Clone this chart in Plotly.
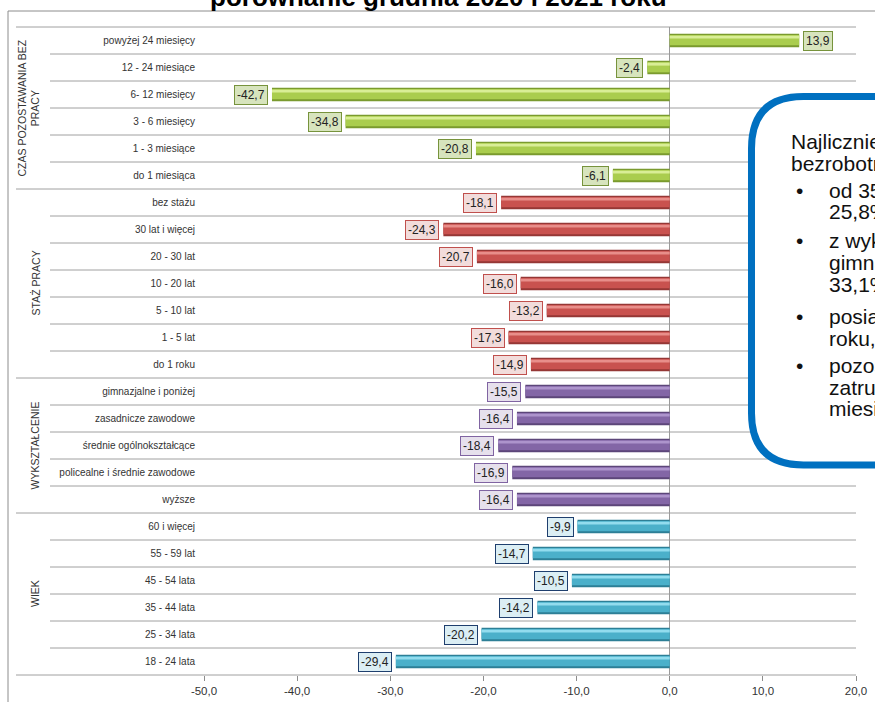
import plotly.graph_objects as go

# data (top to bottom as in the chart)
groups = ["CZAS POZOSTAWANIA BEZ<br>PRACY", "STAŻ PRACY", "WYKSZTAŁCENIE", "WIEK"]
group_sizes = [6, 7, 5, 6]
categories = [
    "powyżej 24 miesięcy", "12 - 24 miesiące", "6- 12 miesięcy", "3 - 6 miesięcy",
    "1 - 3 miesiące", "do 1 miesiąca",
    "bez stażu", "30 lat i więcej", "20 - 30 lat", "10 - 20 lat", "5 - 10 lat",
    "1 - 5 lat", "do 1 roku",
    "gimnazjalne i poniżej", "zasadnicze zawodowe", "średnie ogólnokształcące",
    "policealne i średnie zawodowe", "wyższe",
    "60 i więcej", "55 - 59 lat", "45 - 54 lata", "35 - 44 lata", "25 - 34 lata",
    "18 - 24 lata",
]
values = [
    13.9, -2.4, -42.7, -34.8, -20.8, -6.1,
    -18.1, -24.3, -20.7, -16.0, -13.2, -17.3, -14.9,
    -15.5, -16.4, -18.4, -16.9, -16.4,
    -9.9, -14.7, -10.5, -14.2, -20.2, -29.4,
]
x_ticks = [-50, -40, -30, -20, -10, 0, 10, 20]
x_tick_text = ["-50,0", "-40,0", "-30,0", "-20,0", "-10,0", "0,0", "10,0", "20,0"]

title = "porównanie grudnia 2020 i 2021 roku"
box_lines = [
    ("", "Najliczniejszą grupę wśród"),
    ("", "bezrobotnych stanowią osoby:"),
    ("•", "od 35 do 44 lat –"),
    ("", "25,8% ogółu,"),
    ("•", "z wykształceniem"),
    ("", "gimnazjalnym i poniżej –"),
    ("", "33,1%,"),
    ("•", "posiadające staż pracy do 1"),
    ("", "roku,"),
    ("•", "pozostające bez"),
    ("", "zatrudnienia powyżej 12"),
    ("", "miesięcy."),
]

# group colours: dark edge, main, highlight, label fill, label border
dark_c = ["#7a9a2e", "#953735", "#5c4679", "#2d7f96"]
main_c = ["#aacd4e", "#c9524f", "#8366a6", "#4bb0ca"]
light_c = ["#d9ee96", "#e88e8a", "#ad94cc", "#92dcee"]
lab_fill = ["#d7e4bd", "#f2dcdb", "#e6e0ec", "#dbeef4"]
lab_line = ["#77933c", "#c0504d", "#8064a2", "#1f3f6e"]

FONT = "Arial, Liberation Sans, sans-serif"
W, H = 875, 702
L, R, T, B = 204, 19, 27, 27


def px_x(px):
    return (px - L) / (W - L - R)


def px_y(py):
    return (H - B - py) / (H - T - B)


def expand(cols):
    out = []
    for c, n in zip(cols, group_sizes):
        out += [c] * n
    return out


fig = go.Figure()

# 3 layered bars give the bevelled look
for cols, width, offset in [(dark_c, 0.5, -0.25), (main_c, 0.38, -0.18), (light_c, 0.11, 0.07)]:
    fig.add_trace(go.Bar(
        x=values, y=categories, orientation="h",
        width=width, offset=offset,
        marker=dict(color=expand(cols), line=dict(width=0)),
        hoverinfo="skip", showlegend=False,
    ))

annotations = []
fills = expand(lab_fill)
borders = expand(lab_line)
for cat, v, f, b in zip(categories, values, fills, borders):
    annotations.append(dict(
        x=v, y=cat, xref="x", yref="y",
        text=f"{v:.1f}".replace(".", ","),
        showarrow=False,
        xanchor="left" if v > 0 else "right", yanchor="middle",
        xshift=4 if v > 0 else -4,
        font=dict(family=FONT, size=12, color="#222"),
        bgcolor=f, bordercolor=b, borderwidth=1, borderpad=2,
    ))

# group labels on the left
start = 0
for g, n in zip(groups, group_sizes):
    mid = 27 + 27 * (start + n / 2)
    annotations.append(dict(
        x=px_x(28.5 if "<br>" in g else 35), y=px_y(mid), xref="paper", yref="paper",
        text=g, textangle=-90, showarrow=False, xanchor="center", yanchor="middle",
        font=dict(family=FONT, size=10.5, color="#333"),
    ))
    start += n

# title, cut off at the top
annotations.append(dict(
    x=px_x(438), y=px_y(-2.5), xref="paper", yref="paper",
    text=f"<b>{title}</b>", showarrow=False, xanchor="center", yanchor="middle",
    font=dict(family=FONT, size=26, color="#000"),
))

# text box lines
line_y = [141, 163, 190, 211, 240, 262, 284, 316, 338, 365, 387, 409]
for (bullet, txt), yy in zip(box_lines, line_y):
    if bullet:
        annotations.append(dict(
            x=px_x(794), y=px_y(yy), xref="paper", yref="paper",
            text=bullet, showarrow=False, xanchor="left", yanchor="middle",
            font=dict(family=FONT, size=21, color="#111"),
        ))
    annotations.append(dict(
        x=px_x(789 if not bullet and yy < 170 else 827), y=px_y(yy),
        xref="paper", yref="paper",
        text=txt, showarrow=False, xanchor="left", yanchor="middle",
        font=dict(family=FONT, size=21, color="#111"),
    ))

shapes = []
# row and group separator lines
group_edges = {0}
acc = 0
for n in group_sizes:
    acc += n
    group_edges.add(acc)
for k in range(len(categories) + 1):
    yy = px_y(27 + 27 * k)
    shapes.append(dict(
        type="line", xref="paper", yref="paper", layer="below",
        x0=px_x(16 if k in group_edges else 50), x1=1, y0=yy, y1=yy,
        line=dict(color="#a0a0a0", width=1),
    ))

# chart frame (top and left edges visible)
shapes.append(dict(type="line", xref="paper", yref="paper", layer="below",
                   x0=px_x(8), x1=px_x(880), y0=px_y(11), y1=px_y(11),
                   line=dict(color="#8c8c8c", width=1)))
shapes.append(dict(type="line", xref="paper", yref="paper", layer="below",
                   x0=px_x(8), x1=px_x(8), y0=px_y(11), y1=px_y(710),
                   line=dict(color="#8c8c8c", width=1)))

# rounded text box
x0, y0, x1, y1, r = 751.5, 96.5, 930, 465, 52
pts = [
    ("M", [(x0 + r, y0)]), ("L", [(x1 - r, y0)]), ("Q", [(x1, y0), (x1, y0 + r)]),
    ("L", [(x1, y1 - r)]), ("Q", [(x1, y1), (x1 - r, y1)]), ("L", [(x0 + r, y1)]),
    ("Q", [(x0, y1), (x0, y1 - r)]), ("L", [(x0, y0 + r)]), ("Q", [(x0, y0), (x0 + r, y0)]),
]
path = " ".join(cmd + " " + " ".join(f"{px_x(a):.5f},{px_y(b):.5f}" for a, b in p) for cmd, p in pts) + " Z"
shapes.append(dict(type="path", xref="paper", yref="paper", path=path, layer="above",
                   fillcolor="white", line=dict(color="#0070c0", width=7)))

fig.update_layout(
    width=W, height=H,
    margin=dict(l=L, r=R, t=T, b=B, pad=0, autoexpand=False),
    paper_bgcolor="white", plot_bgcolor="rgba(0,0,0,0)",
    barmode="overlay", showlegend=False,
    font=dict(family=FONT, color="#333"),
    annotations=annotations, shapes=shapes,
)
fig.update_xaxes(
    range=[-50, 20], tickvals=x_ticks, ticktext=x_tick_text, automargin=False,
    showgrid=False, zeroline=True, zerolinecolor="#9a9a9a", zerolinewidth=1,
    ticks="outside", ticklen=5, tickcolor="#8c8c8c",
    tickfont=dict(family=FONT, size=11.5, color="#333"), showline=False,
)
fig.update_yaxes(
    type="category", categoryorder="array", categoryarray=categories[::-1],
    range=[-0.5, len(categories) - 0.5], showgrid=False, zeroline=False,
    ticks="", ticklabelstandoff=8, automargin=False,
    tickfont=dict(family=FONT, size=10, color="#333"),
)

# page body has a default 8px margin; drop it so the figure sits at 0,0
fig.write_html("out.html", config={"displayModeBar": False},
               post_script="document.body.style.margin='0';")
